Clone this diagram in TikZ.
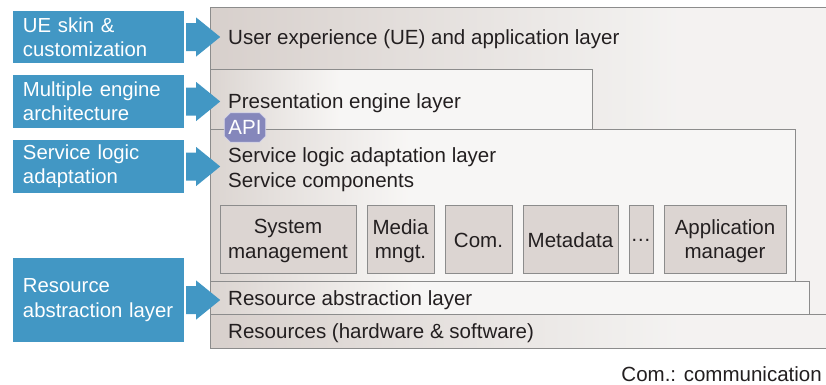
\documentclass[tikz,border=0pt]{standalone}
\usepackage{fontspec}
\setmainfont{Liberation Sans}
\usetikzlibrary{calc}
\definecolor{bluebox}{HTML}{4297C4}
\definecolor{edge}{HTML}{8C8C8C}
\definecolor{compfill}{HTML}{DCD5D2}
\definecolor{txt}{HTML}{231F20}
\definecolor{apifill}{HTML}{8587BB}
\definecolor{apiedge}{HTML}{D4D4E8}
\pgfdeclarehorizontalshading{outershade}{100bp}{rgb(0bp)=(0.845,0.815,0.8); rgb(25bp)=(0.845,0.815,0.8); rgb(62bp)=(0.955,0.95,0.945); rgb(100bp)=(0.955,0.95,0.945)}
\pgfdeclarehorizontalshading{layershade}{100bp}{rgb(0bp)=(0.86,0.835,0.82); rgb(25bp)=(0.86,0.835,0.82); rgb(42bp)=(0.97,0.965,0.96); rgb(100bp)=(0.97,0.965,0.96)}
\tikzset{
  every node/.style={font=\fontsize{20.6}{25}\selectfont, text=txt, inner sep=0pt},
  bluelabel/.style={fill=bluebox, text=white, align=left, font=\fontsize{20.4}{24.5}\selectfont, text width=151bp, inner xsep=10bp, minimum width=171bp},
  layerbox/.style={draw=edge, line width=0.9bp, shading=layershade},
  outerbox/.style={draw=edge, line width=0.9bp, shading=outershade},
  layertext/.style={anchor=west},
  compbox/.style={draw=edge, line width=0.9bp, fill=compfill, minimum height=68bp},
  comptext/.style={align=center, font=\fontsize{20.6}{24.5}\selectfont},
  apitext/.style={text=white, minimum width=41bp, minimum height=29bp},
  apishape/.style={fill=apifill, draw=apiedge, line width=0.8bp},
  blockarrow/.style={fill=bluebox}
}
\newcommand\blockarrowfrom[1]{%
  \fill[blockarrow] ($(#1.east)+(2,-14)$) -- ($(#1.east)+(12,-14)$) -- ($(#1.east)+(12,-19.5)$) -- ($(#1.east)+(36,0)$) -- ($(#1.east)+(12,19.5)$) -- ($(#1.east)+(12,14)$) -- ($(#1.east)+(2,14)$) -- cycle;}
\begin{document}
\begin{tikzpicture}[x=1bp,y=-1bp]
\useasboundingbox (0,0) rectangle (826,384);
\clip (0,0) rectangle (826,384);
% outer box (UE layer and resources)
\path[outerbox] (210,7) rectangle (840,348);
\draw[edge, line width=0.9bp] (210,314) -- (840,314);
% layers
\path[layerbox] (210,69) rectangle (592,129);
\path[layerbox] (210,129) rectangle (795,281);
\path[layerbox] (210,281) rectangle (809,314);
% layer texts
\node[layertext] (ue) at (228,39.5) {User experience (UE) and application layer};
\node[layertext] (pe) at (228,103) {Presentation engine layer};
\node[layertext, align=left] (sl) at (228,169.5) {Service logic adaptation layer\\Service components};
\node[layertext] (ra) at (228,300) {Resource abstraction layer};
\node[layertext] (rs) at (228,333) {Resources (hardware \& software)};
% components
\node[compbox, minimum width=136bp] (sysm) at (288,239) {};
\node[compbox, minimum width=67bp] (media) at (400.5,239) {};
\node[compbox, minimum width=67bp] (com) at (478.5,239) {};
\node[compbox, minimum width=95bp] (meta) at (570.5,239) {};
\node[compbox, minimum width=24bp] (dots) at (641,239) {};
\node[compbox, minimum width=122bp] (appm) at (725,239) {};
\node[comptext] (sysmt) at ($(sysm.center)+(0,2)$) {System\\management};
\node[comptext] (mediat) at ($(media.center)+(0,2)$) {Media\\mngt.};
\node[comptext] (comt) at ($(com.center)+(0,1.5)$) {Com.};
\node[comptext] (metat) at ($(meta.center)+(0,1.5)$) {Metadata};
\node[comptext] (dotst) at ($(dots.center)+(0,1)$) {\dots};
\node[comptext] (appmt) at ($(appm.center)+(0,2)$) {Application\\manager};
% API badge
\node[apitext] (api) at (245,127.5) {};
\path[apishape] ($(api.north west)+(6,0)$) -- ($(api.north east)+(-6,0)$) -- ($(api.north east)+(0,6)$) -- ($(api.south east)+(0,-6)$) -- ($(api.south east)+(-6,0)$) -- ($(api.south west)+(6,0)$) -- ($(api.south west)+(0,-6)$) -- ($(api.north west)+(0,6)$) -- cycle;
\node[text=white] (apilabel) at (api.center) {API};
% blue labels
\node[bluelabel, minimum height=52bp] (b1) at (98.5,37) {UE skin \&\\customization};
\node[bluelabel, minimum height=53bp] (b2) at (98.5,101.5) {Multiple engine\\architecture};
\node[bluelabel, minimum height=53bp] (b3) at (98.5,166.5) {Service logic\\adaptation};
\node[bluelabel, minimum height=84bp] (b4) at (98.5,300) {Resource\\\mbox{abstraction layer}};
% block arrows
\blockarrowfrom{b1}
\blockarrowfrom{b2}
\blockarrowfrom{b3}
\blockarrowfrom{b4}
% footnote
\node[anchor=east] (note) at (822,374) {Com.: communication};
\end{tikzpicture}
\end{document}
